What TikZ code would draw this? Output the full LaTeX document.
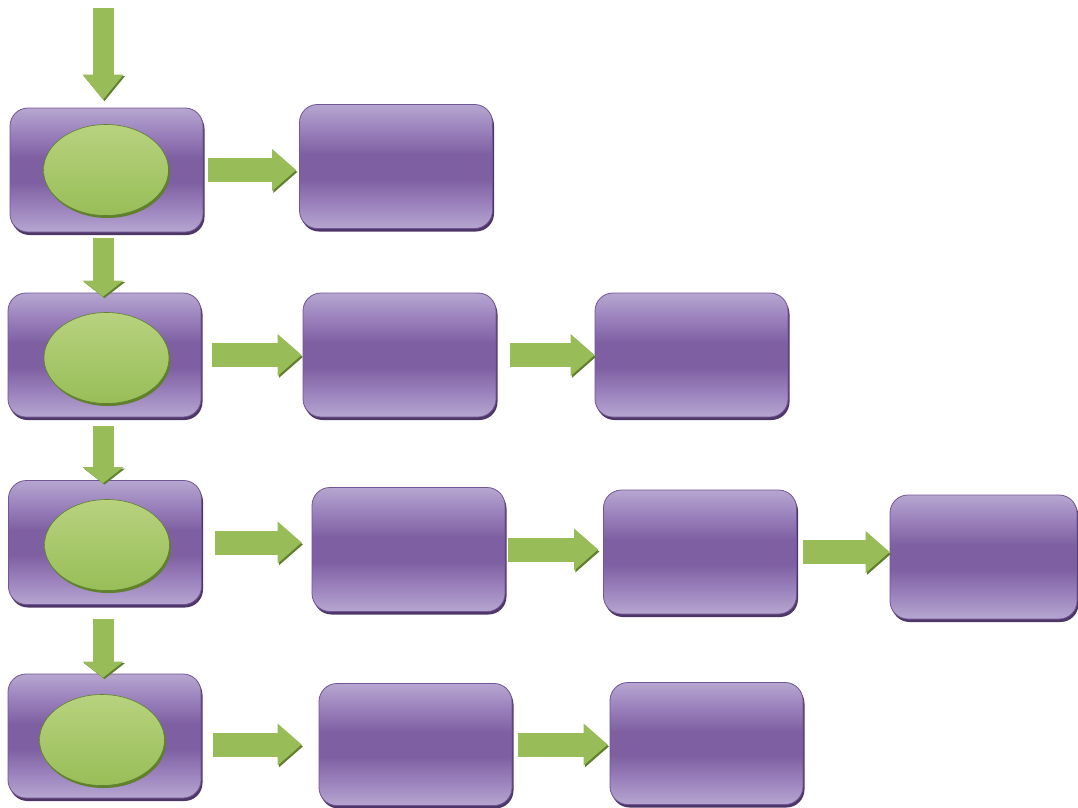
\documentclass[tikz,border=0pt]{standalone}
\usetikzlibrary{arrows.meta,shapes.geometric,shadows}

\definecolor{boxlight}{RGB}{182,166,208}
\definecolor{boxmid}{RGB}{152,126,186}
\definecolor{boxdark}{RGB}{126,96,162}
\definecolor{boxedge}{RGB}{112,86,148}
\definecolor{boxshadow}{RGB}{78,54,104}
\definecolor{leaf}{RGB}{152,188,88}
\definecolor{leaflight}{RGB}{184,210,126}
\definecolor{leafdark}{RGB}{152,190,88}
\definecolor{leafedge}{RGB}{96,128,46}

\pgfdeclareverticalshading{boxshade}{100bp}{color(0bp)=(boxlight); color(25bp)=(boxlight);
  color(36bp)=(boxmid); color(45bp)=(boxdark); color(55bp)=(boxdark);
  color(64bp)=(boxmid); color(75bp)=(boxlight); color(100bp)=(boxlight)}

\begin{document}
\begin{tikzpicture}[x=1pt,y=-1pt,
  box/.style={rectangle,rounded corners=18pt,draw=boxedge,line width=.8pt,
    shade,shading=boxshade,minimum width=193pt,minimum height=124pt,
    drop shadow={shadow xshift=1.5pt,shadow yshift=-3pt,fill=boxshadow,opacity=1}},
  core/.style={ellipse,draw=leafedge,line width=.6pt,top color=leaflight,bottom color=leafdark,
    minimum width=125pt,minimum height=91pt,inner sep=0pt,
    drop shadow={shadow xshift=1.5pt,shadow yshift=-2.5pt,fill=leafedge,opacity=1}},
  fat/.style={draw=leaf,line width=24pt,-{Triangle[width=42pt,length=24pt,line width=0pt]},
    preaction={draw=leafedge,transform canvas={shift={(1.2pt,-2pt)}}}},
  drop/.style={draw=leaf,line width=21pt,-{Triangle[width=41pt,length=16pt,line width=0pt]},
    preaction={draw=leafedge,transform canvas={shift={(1.5pt,-1.5pt)}}}}]

\useasboundingbox (0,0) rectangle (1078,807);

\coordinate (in) at (103,8);

% row 1
\node[box] (r1a) at (106.5,170) {};
\node[core] (e1) at (106,170) {};
\node[box] (r1b) at (396,166.5) {};

% row 2
\node[box] (r2a) at (104.5,355) {};
\node[core] (e2) at (106.5,358) {};
\node[box] (r2b) at (399.5,355) {};
\node[box] (r2c) at (691.5,355) {};

% row 3
\node[box] (r3a) at (105,542.5) {};
\node[core] (e3) at (107,545) {};
\node[box] (r3b) at (408.5,549.5) {};
\node[box] (r3c) at (700,552) {};
\node[box,minimum width=187pt] (r3d) at (983.5,557) {};

% row 4
\node[box] (r4a) at (104.5,736) {};
\node[core] (e4) at (102,740) {};
\node[box,minimum height=122pt] (r4b) at (415.5,744.5) {};
\node[box,minimum height=122pt] (r4c) at (706.5,743.5) {};

\draw[drop,-{Triangle[width=41pt,length=25pt,line width=0pt]},shorten >=8pt] (in) -- (in |- r1a.north);
\draw[drop,shorten <=6pt,shorten >=-4pt] (in |- r1a.south) -- (in |- r2a.north);
\draw[drop,shorten <=9pt,shorten >=-3pt] (in |- r2a.south) -- (in |- r3a.north);
\draw[drop,shorten <=14pt,shorten >=-4pt] (in |- r3a.south) -- (in |- r4a.north);

\draw[fat,shorten <=5pt,shorten >=3pt] (r1a.east) -- (r1a.east -| r1b.west);
\draw[fat,shorten <=11pt,shorten >=1pt] (r2a.east) -- (r2a.east -| r2b.west);
\draw[fat,shorten <=14pt] (r2b.east) -- (r2b.east -| r2c.west);
\draw[fat,shorten <=13pt,shorten >=10pt] (r3a.east) -- (r3a.east -| r3b.west);
\draw[fat,shorten <=3pt,shorten >=5pt] (r3b.east) -- (r3b.east -| r3c.west);
\draw[fat,shorten <=6pt] (r3c.east) -- (r3c.east -| r3d.west);
\draw[fat,shorten <=12pt,shorten >=17pt] (r4b.west -| r4a.east) -- (r4b.west);
\draw[fat,shorten <=6pt,shorten >=2pt] (r4b.east) -- (r4b.east -| r4c.west);

\end{tikzpicture}
\end{document}
